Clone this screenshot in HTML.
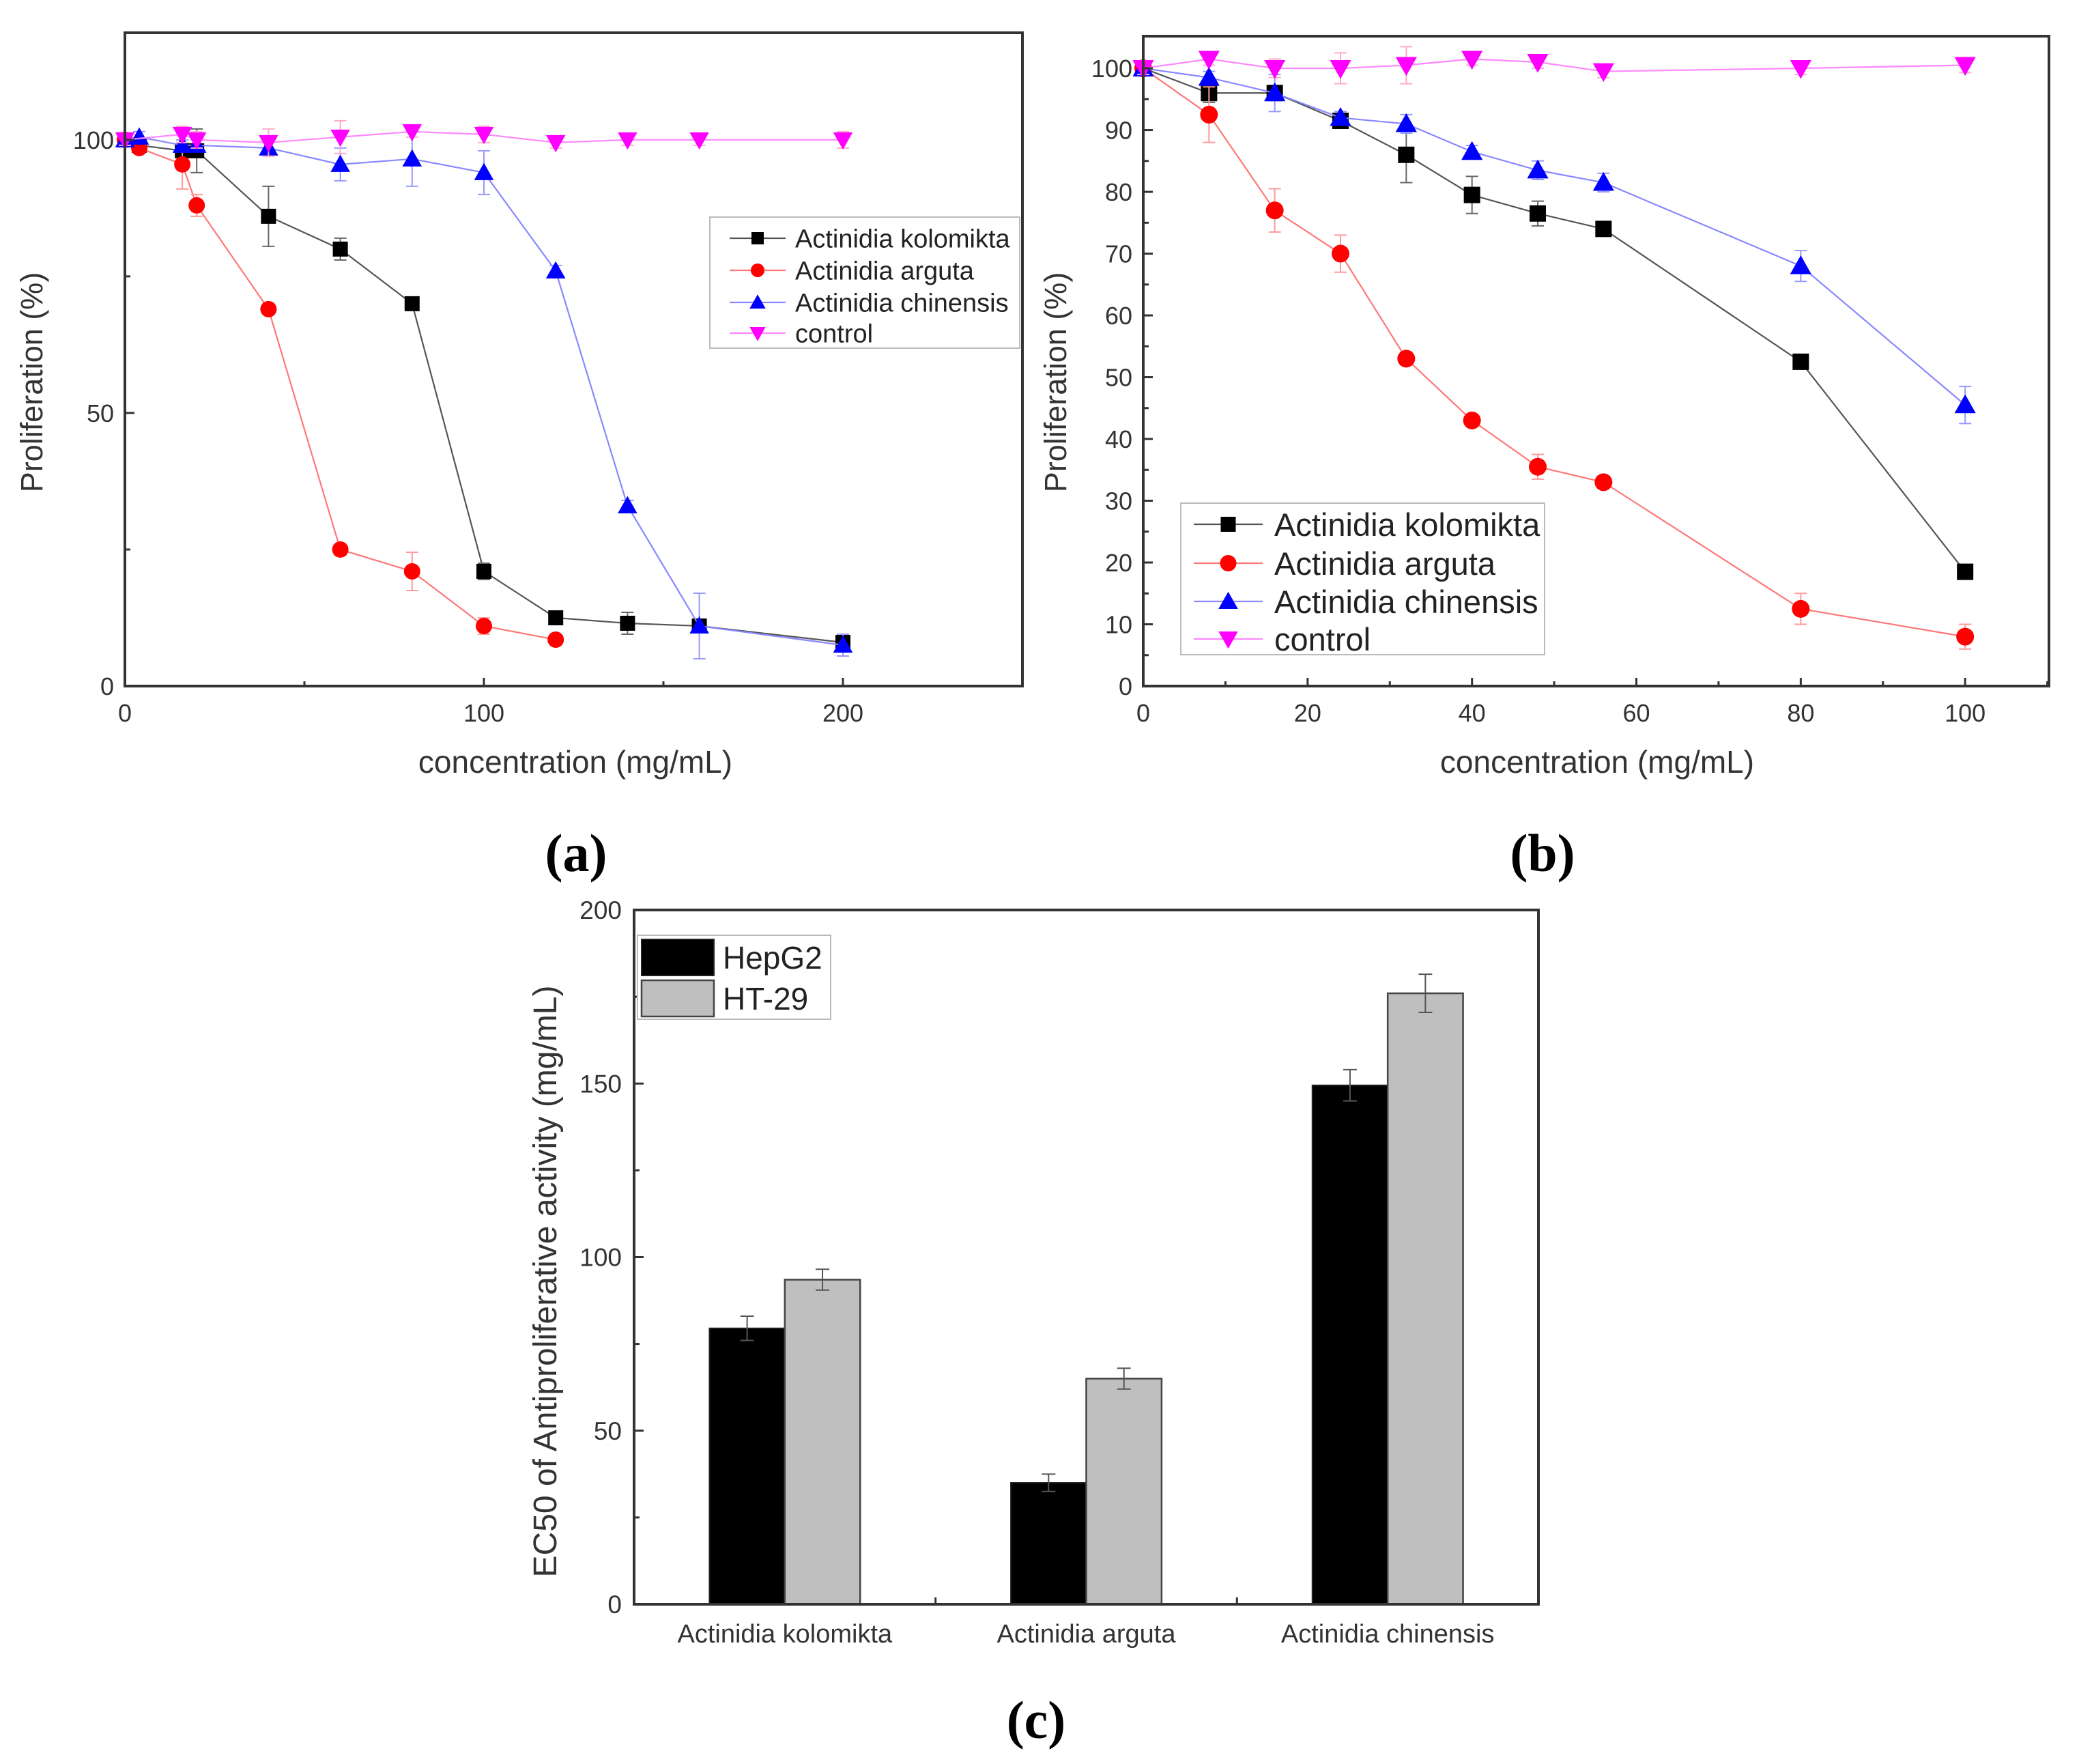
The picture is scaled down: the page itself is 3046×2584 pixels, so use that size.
<!DOCTYPE html>
<html><head><meta charset="utf-8"><style>
html,body{margin:0;padding:0;background:#fff;}
svg{display:block;font-family:"Liberation Sans",Arial,sans-serif;}
</style></head><body>
<svg id="fig" width="3046" height="2584" viewBox="0 0 3046 2584" xmlns="http://www.w3.org/2000/svg"></svg>
<script>
// ---- Panel (a) data ----
const aXK = [0,4,16,20,40,60,80,100,120,140,160,200];
const aYK = [100,99,98,98,86,80,70,21,12.5,11.5,11,8];
const aEK = [1,1,2,4,5.5,2,1,1.5,1,2,1,1.5];
const aXR = [0,4,16,20,40,60,80,100,120];
const aYR = [100,98.5,95.5,88,69,25,21,11,8.5];
const aER = [1,1,4.5,2,1,1,3.5,1.5,1];
const aXC = [0,4,16,20,40,60,80,100,120,140,160,200];
const aYC = [100,100.5,99,99,98.5,95.5,96.5,94,76,33,11,7.5];
const aEC = [1,1,1,1,1,3,5,4,1,1,6,2];
const aXN = [0,16,20,40,60,80,100,120,140,160,200];
const aYN = [100,101,100,99.5,100.5,101.5,101,99.5,100,100,100];
const aEN = [1,1.5,1.5,2.5,3,1,1.5,1,1,1,1.5];
const aXTicks = [0,100,200];
const aYTicks = [0,50,100];
// ---- Panel (b) data ----
const bX = [0,8,16,24,32,40,48,56,80,100];
const bYK = [100,96,96,91.5,86,79.5,76.5,74,52.5,18.5];
const bEK = [1,1.5,1,1,4.5,3,2,1,1,1];
const bYR = [100,92.5,77,70,53,43,35.5,33,12.5,8];
const bER = [1,4.5,3.5,3,1,1,2,1,2.5,2];
const bYC = [100,98.5,96,92,91,86.5,83.5,81.5,68,45.5];
const bEC = [1,1,3,1,1.5,1,1.5,1.5,2.5,3];
const bYN = [100,101.5,100,100,100.5,101.5,101,99.5,100,100.5];
const bEN = [1,1,1.5,2.5,3,1,1,1,1,1.2];
const bXTicks = [0,20,40,60,80,100];
const bYTicks = [0,10,20,30,40,50,60,70,80,90,100];
// ---- Panel (c) data ----
const cCats = ["Actinidia kolomikta","Actinidia arguta","Actinidia chinensis"];
const cHep = [79.5,35,149.5];
const cHepErr = [3.5,2.5,4.5];
const cHT = [93.5,65,176];
const cHTErr = [3,3,5.5];
const cYTicks = [0,50,100,150,200];

const NS="http://www.w3.org/2000/svg";
const svg=document.getElementById('fig');
function el(tag,attrs,parent,text){const e=document.createElementNS(NS,tag);for(const k in attrs)e.setAttribute(k,attrs[k]);if(text!==undefined)e.textContent=text;(parent||svg).appendChild(e);return e;}

function marker(g,type,x,y,s,color){
  let m;
  if(type==='sq') m=el('rect',{x:x-s/2,y:y-s/2,width:s,height:s,fill:color},g);
  else if(type==='ci') m=el('circle',{cx:x,cy:y,r:s/2+1,fill:color},g);
  else if(type==='up') m=el('polygon',{points:`${x},${y-s*0.65} ${x-s*0.65},${y+s*0.5} ${x+s*0.65},${y+s*0.5}`,fill:color},g);
  else m=el('polygon',{points:`${x},${y+s*0.65} ${x-s*0.65},${y-s*0.5} ${x+s*0.65},${y-s*0.5}`,fill:color},g);
  return m;
}

function lineChart(cfg){
  const {L,R,T,B,xmin,xmax,ymin,ymax}=cfg;
  const sx=v=>L+(v-xmin)/(xmax-xmin)*(R-L);
  const sy=v=>B-(v-ymin)/(ymax-ymin)*(B-T);
  const g=el('g',{});
  
  
  cfg.series.forEach(s=>{
    const sg=el('g',{},g);
    
    
    const pts=s.x.map((v,i)=>sx(v)+','+sy(s.y[i])).join(' ');
    el('polyline',{points:pts,fill:'none',stroke:s.line,'stroke-width':2.2},sg);
    s.x.forEach((v,i)=>{
      const X=sx(v),Y1=sy(s.y[i]+s.e[i]),Y2=sy(s.y[i]-s.e[i]);
      el('path',{d:`M${X},${Y1}V${Y2}M${X-9},${Y1}H${X+9}M${X-9},${Y2}H${X+9}`,stroke:s.err,'stroke-width':2,fill:'none'},sg);
    });
    s.x.forEach((v,i)=>{
      const m=marker(sg,s.mk,sx(v),sy(s.y[i]),cfg.ms,s.color);
      
      
    });
  });
  const fr=el('rect',{x:L,y:T,width:R-L,height:B-T,fill:'none',stroke:'#333','stroke-width':4},g);
  
  
  cfg.xTicks.forEach(t=>{
    el('line',{x1:sx(t),y1:B,x2:sx(t),y2:B-12,stroke:'#333','stroke-width':3},g);
    const tx=el('text',{x:sx(t),y:B+52,'font-size':36,'text-anchor':'middle',fill:'#333'},g,String(t));
    
    
  });
  cfg.xMinor.forEach(t=>el('line',{x1:sx(t),y1:B,x2:sx(t),y2:B-7,stroke:'#333','stroke-width':3},g));
  cfg.yTicks.forEach(t=>{
    el('line',{x1:L,y1:sy(t),x2:L+14,y2:sy(t),stroke:'#333','stroke-width':3},g);
    const ty=el('text',{x:L-16,y:sy(t)+13,'font-size':36,'text-anchor':'end',fill:'#333'},g,String(t));
    
    
  });
  cfg.yMinor.forEach(t=>el('line',{x1:L,y1:sy(t),x2:L+8,y2:sy(t),stroke:'#333','stroke-width':3},g));
  const xl=el('text',{x:cfg.xlx,y:cfg.xly,'font-size':46,'text-anchor':'middle',fill:'#333'},g,'concentration (mg/mL)');
  
  
  const yl=el('text',{x:0,y:0,'font-size':45,'text-anchor':'middle',fill:'#333',transform:`translate(${cfg.ylx},${cfg.yly}) rotate(-90)`},g,'Proliferation (%)');
  
  
  const lg=el('g',{},g);
  
  
  const Lg=cfg.legend;
  el('rect',{x:Lg.x,y:Lg.y,width:Lg.w,height:Lg.h,fill:'#fff',stroke:'#bbb','stroke-width':2},lg);
  cfg.series.forEach((s,i)=>{
    const yy=Lg.rows[i];
    const eg=el('g',{},lg);
    
    
    el('line',{x1:Lg.l1,y1:yy,x2:Lg.l2,y2:yy,stroke:s.line,'stroke-width':2.2},eg);
    marker(eg,s.mk,(Lg.l1+Lg.l2)/2,yy,Lg.ms,s.color);
    el('text',{x:Lg.tx,y:yy+Lg.fs*0.36,'font-size':Lg.fs,fill:'#222'},eg,s.label);
  });
}

const names=['Actinidia kolomikta','Actinidia arguta','Actinidia chinensis','control'];
lineChart({name:'chart-a',L:183,R:1498,T:48,B:1005,xmin:0,xmax:250,ymin:0,ymax:119.6,ms:22,
  xTicks:aXTicks,xMinor:[50,150,250],yTicks:aYTicks,yMinor:[25,75],
  xlx:843,xly:1132,ylx:62,yly:560,
  series:[
    {name:'series-kolomikta',label:names[0],x:aXK,y:aYK,e:aEK,mk:'sq',color:'#000',line:'#555',err:'#666'},
    {name:'series-arguta',label:names[1],x:aXR,y:aYR,e:aER,mk:'ci',color:'#f00',line:'#f77',err:'#f99'},
    {name:'series-chinensis',label:names[2],x:aXC,y:aYC,e:aEC,mk:'up',color:'#00f',line:'#88f',err:'#99f'},
    {name:'series-control',label:names[3],x:aXN,y:aYN,e:aEN,mk:'dn',color:'#f0f',line:'#f8f',err:'#fac'}],
  legend:{x:1040,y:318,w:454,h:192,rows:[349,396,443,488],l1:1069,l2:1151,tx:1165,fs:38,ms:18}});

lineChart({name:'chart-b',L:1675,R:3002,T:53,B:1005,xmin:0,xmax:110.2,ymin:0,ymax:105.2,ms:24,
  xTicks:bXTicks,xMinor:[10,30,50,70,90,110],yTicks:bYTicks,yMinor:[5,15,25,35,45,55,65,75,85,95],
  xlx:2340,xly:1132,ylx:1562,yly:560,
  series:[
    {name:'series-kolomikta',label:names[0],x:bX,y:bYK,e:bEK,mk:'sq',color:'#000',line:'#555',err:'#666'},
    {name:'series-arguta',label:names[1],x:bX,y:bYR,e:bER,mk:'ci',color:'#f00',line:'#f77',err:'#f99'},
    {name:'series-chinensis',label:names[2],x:bX,y:bYC,e:bEC,mk:'up',color:'#00f',line:'#88f',err:'#99f'},
    {name:'series-control',label:names[3],x:bX,y:bYN,e:bEN,mk:'dn',color:'#f0f',line:'#f8f',err:'#fac'}],
  legend:{x:1730,y:737,w:533,h:222,rows:[768,825,881,936],l1:1749,l2:1850,tx:1867,fs:47,ms:22}});

// ---- Panel (c) bar chart ----
(function(){
  const L=929,R=2254,T=1333,B=2350,ymax=200;
  const sx=v=>L+(v-0.5)/3*(R-L);
  const sy=v=>B-v/ymax*(B-T);
  const bw=0.25*(R-L)/3;
  const g=el('g',{});
  
  
  cCats.forEach((c,i)=>{
    const cx=sx(i+1);
    const b1=el('rect',{x:cx-bw,y:sy(cHep[i]),width:bw,height:B-sy(cHep[i]),fill:'#000',stroke:'#222','stroke-width':2},g);
    
    
    const b2=el('rect',{x:cx,y:sy(cHT[i]),width:bw,height:B-sy(cHT[i]),fill:'#bfbfbf',stroke:'#444','stroke-width':2.5},g);
    
    
    [[cx-bw/2,cHep[i],cHepErr[i]],[cx+bw/2,cHT[i],cHTErr[i]]].forEach(([x,v,e])=>{
      el('path',{d:`M${x},${sy(v)}V${sy(v+e)}M${x-10},${sy(v+e)}H${x+10}M${x},${sy(v)}V${sy(v-e)}M${x-10},${sy(v-e)}H${x+10}`,stroke:'#555','stroke-width':2,fill:'none'},g);
    });
    const t=el('text',{x:cx,y:B+56,'font-size':38,'text-anchor':'middle',fill:'#333'},g,c);
    
    
  });
  el('rect',{x:L,y:T,width:R-L,height:B-T,fill:'none',stroke:'#333','stroke-width':4},g);
  [1.5,2.5].forEach(t=>el('line',{x1:sx(t),y1:B,x2:sx(t),y2:B-10,stroke:'#333','stroke-width':3},g));
  cYTicks.forEach(t=>{
    el('line',{x1:L,y1:sy(t),x2:L+14,y2:sy(t),stroke:'#333','stroke-width':3},g);
    const ty=el('text',{x:L-18,y:sy(t)+13,'font-size':37,'text-anchor':'end',fill:'#333'},g,String(t));
    
    
  });
  [25,75,125,175].forEach(t=>el('line',{x1:L,y1:sy(t),x2:L+8,y2:sy(t),stroke:'#333','stroke-width':3},g));
  const yl=el('text',{x:0,y:0,'font-size':48,'text-anchor':'middle',fill:'#333',transform:`translate(815,1877) rotate(-90)`},g,'EC50 of Antiproliferative activity (mg/mL)');
  
  
  const lg=el('g',{},g);
  
  
  el('rect',{x:934,y:1370,width:283,height:123,fill:'#fff',stroke:'#bbb','stroke-width':2},lg);
  el('rect',{x:940,y:1376,width:106,height:53,fill:'#000',stroke:'#222','stroke-width':2},lg);
  el('rect',{x:940,y:1436,width:106,height:53,fill:'#bfbfbf',stroke:'#444','stroke-width':2.5},lg);
  el('text',{x:1059,y:1419,'font-size':46,fill:'#222'},lg,'HepG2');
  el('text',{x:1059,y:1479,'font-size':46,fill:'#222'},lg,'HT-29');
})();

[['(a)',844,1276],['(b)',2260,1276],['(c)',1518,2546]].forEach(([t,x,y])=>{
  const c=el('text',{x:x,y:y,'font-size':78,'font-weight':'bold','text-anchor':'middle','font-family':'"Liberation Serif",serif',fill:'#000'},svg,t);
  
  
});
</script>
</body></html>
